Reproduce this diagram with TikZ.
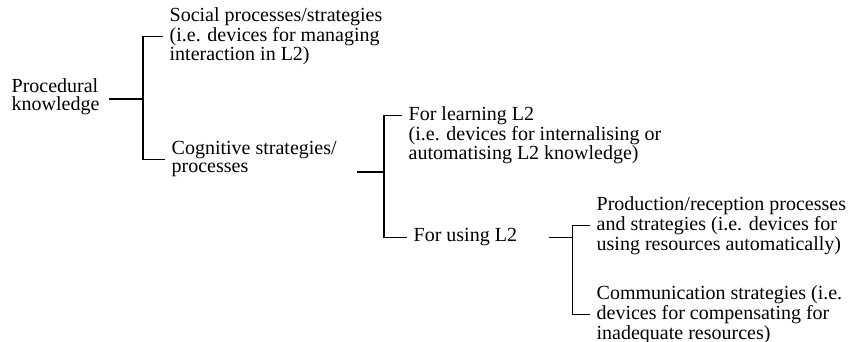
\documentclass[tikz,border=0pt]{standalone}
\usepackage{fontspec}
\setmainfont{Liberation Serif}
\usetikzlibrary{calc}

\begin{document}
\begin{tikzpicture}[x=0.75pt, y=-0.75pt,
    txt/.style={anchor=base west, align=left, inner sep=0pt, outer xsep=5pt, font=\fontsize{15}{13.5}\selectfont},
    brk/.style={line width=0.9pt}
  ]
  \useasboundingbox (0,0) rectangle (850,342);
  % base west sits on the last line
  \node[txt] (proc) at (5,111) {Procedural\\knowledge};
  \node[txt] (social) at (163,61) {Social processes/strategies\\(i.e. devices for managing\\interaction in L2)};
  \node[txt] (cog) at (165,173) {Cognitive strategies/\\processes};
  \node[txt] (learn) at (402,160) {For learning L2\\(i.e. devices for internalising or\\automatising L2 knowledge)};
  \node[txt] (use) at (407,242) {For using L2};
  \node[txt] (prod) at (590,250) {Production/reception processes\\and strategies (i.e. devices for\\using resources automatically)};
  \node[txt] (comm) at (590,339) {Communication strategies (i.e.\\devices for compensating for\\inadequate resources)};
  % forks
  \coordinate (forkA) at (143,99);
  \coordinate (forkB) at (384,172);
  \path (use.east) ++(49,0) coordinate (forkC);
  \draw[brk, shorten <=2pt] (proc.east |- forkA) -- (forkA);
  \draw[brk] (social.west) -| (forkA) |- (cog.west);
  \draw[brk, shorten <=10pt] (cog.east |- forkB) -- (forkB);
  \draw[brk] ([yshift=-6.75pt]learn.north west) -| (forkB) |- (use.west);
  \draw[brk, shorten <=19pt] (use.east) -- (forkC);
  \draw[brk] (prod.west) -| (forkC) |- (comm.west);
\end{tikzpicture}
\end{document}
